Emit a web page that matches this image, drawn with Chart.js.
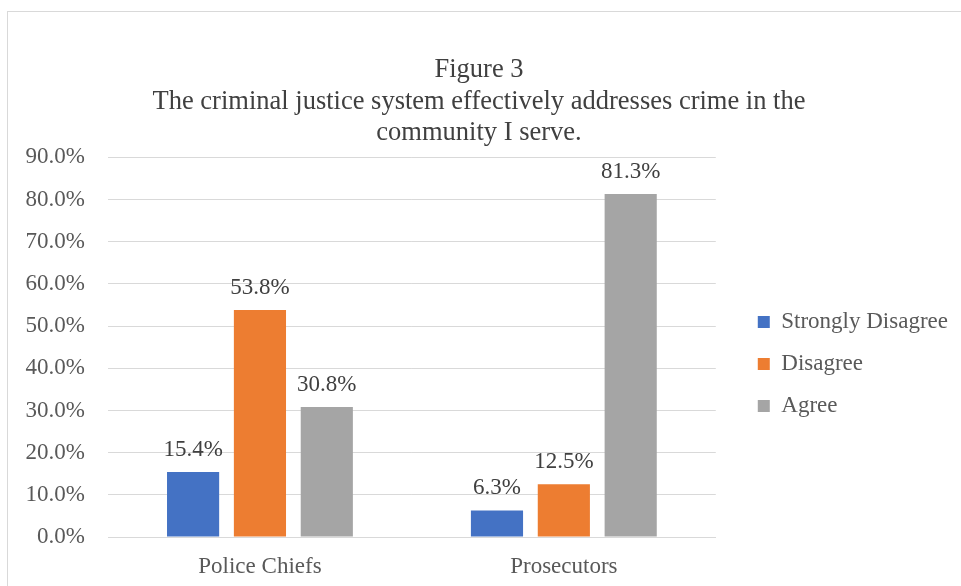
<!DOCTYPE html>
<html>
<head>
<meta charset="utf-8">
<script src="https://cdn.jsdelivr.net/npm/chart.js@4.4.0/dist/chart.umd.min.js"></script>
<style>
  html, body { margin: 0; padding: 0; background: #fff; overflow: hidden; }
  #wrap { width: 961px; height: 586px; position: relative; }
</style>
</head>
<body>
<div id="wrap"><canvas id="chart" width="961" height="586"></canvas></div>
<script>
// data
const categories = ['Police Chiefs', 'Prosecutors'];
const seriesNames = ['Strongly Disagree', 'Disagree', 'Agree'];
const stronglyDisagree = [15.4, 6.3];
const disagree = [53.8, 12.5];
const agree = [30.8, 81.3];
const titleLines = ['Figure 3', 'The criminal justice system effectively addresses crime in the', 'community I serve.'];

const colors = ['#4472C4', '#ED7D31', '#A5A5A5'];
const serif = "'Liberation Serif', 'Times New Roman', serif";

// frame around the chart + value labels over bars
const frame = {
  id: 'frame',
  beforeDraw(chart) {
    const c = chart.ctx;
    c.save();
    c.strokeStyle = '#d9d9d9';
    c.lineWidth = 1;
    c.strokeRect(7.5, 11.5, 1100, 1000);
    c.restore();
  }
};

const barLabels = {
  id: 'barLabels',
  afterDatasetsDraw(chart) {
    const c = chart.ctx;
    c.save();
    c.font = '23px ' + serif;
    c.fillStyle = '#404040';
    c.textAlign = 'center';
    c.textBaseline = 'alphabetic';
    chart.data.datasets.forEach((ds, i) => {
      chart.getDatasetMeta(i).data.forEach((bar, j) => {
        c.fillText(ds.data[j].toFixed(1) + '%', bar.x, bar.y - 16);
      });
    });
    c.restore();
  }
};

new Chart(document.getElementById('chart'), {
  type: 'bar',
  data: {
    labels: categories,
    datasets: [
      { label: seriesNames[0], data: stronglyDisagree, backgroundColor: colors[0] },
      { label: seriesNames[1], data: disagree, backgroundColor: colors[1] },
      { label: seriesNames[2], data: agree, backgroundColor: colors[2] }
    ]
  },
  options: {
    responsive: false,
    animation: false,
    events: [],
    categoryPercentage: 0.66,
    barPercentage: 0.78,
    layout: { padding: { left: 0, right: 3, top: 54, bottom: 0 } },
    plugins: {
      title: {
        display: true,
        text: titleLines,
        color: '#404040',
        font: { family: serif, size: 26.5, weight: 'normal', lineHeight: 1.2 },
        padding: { top: 0, bottom: 8 }
      },
      legend: {
        position: 'right',
        maxWidth: 240,
        // empty title only pushes the items down
        title: { display: true, text: '', font: { size: 10, lineHeight: 1 }, padding: { top: 78, bottom: 0 } },
        labels: {
          boxWidth: 12,
          boxHeight: 12,
          padding: 19,
          color: '#595959',
          font: { family: serif, size: 23 }
        }
      },
      tooltip: { enabled: false }
    },
    scales: {
      x: {
        grid: { display: false, drawTicks: false },
        border: { color: '#d9d9d9' },
        ticks: { color: '#595959', font: { family: serif, size: 23 }, padding: 16 },
        afterFit(s) { s.height = 49; }
      },
      y: {
        min: 0,
        max: 90,
        ticks: {
          stepSize: 10,
          color: '#595959',
          font: { family: serif, size: 23 },
          padding: 23,
          callback: v => v.toFixed(1) + '%'
        },
        grid: { color: '#d9d9d9', drawTicks: false },
        border: { display: false },
        afterFit(s) { s.width = 108; }
      },
      yGap: {
        type: 'linear',
        position: 'right',
        grid: { display: false },
        border: { display: false },
        ticks: { display: false },
        afterFit(s) { s.width = 23; }
      }
    }
  },
  plugins: [frame, barLabels]
});
</script>
</body>
</html>
